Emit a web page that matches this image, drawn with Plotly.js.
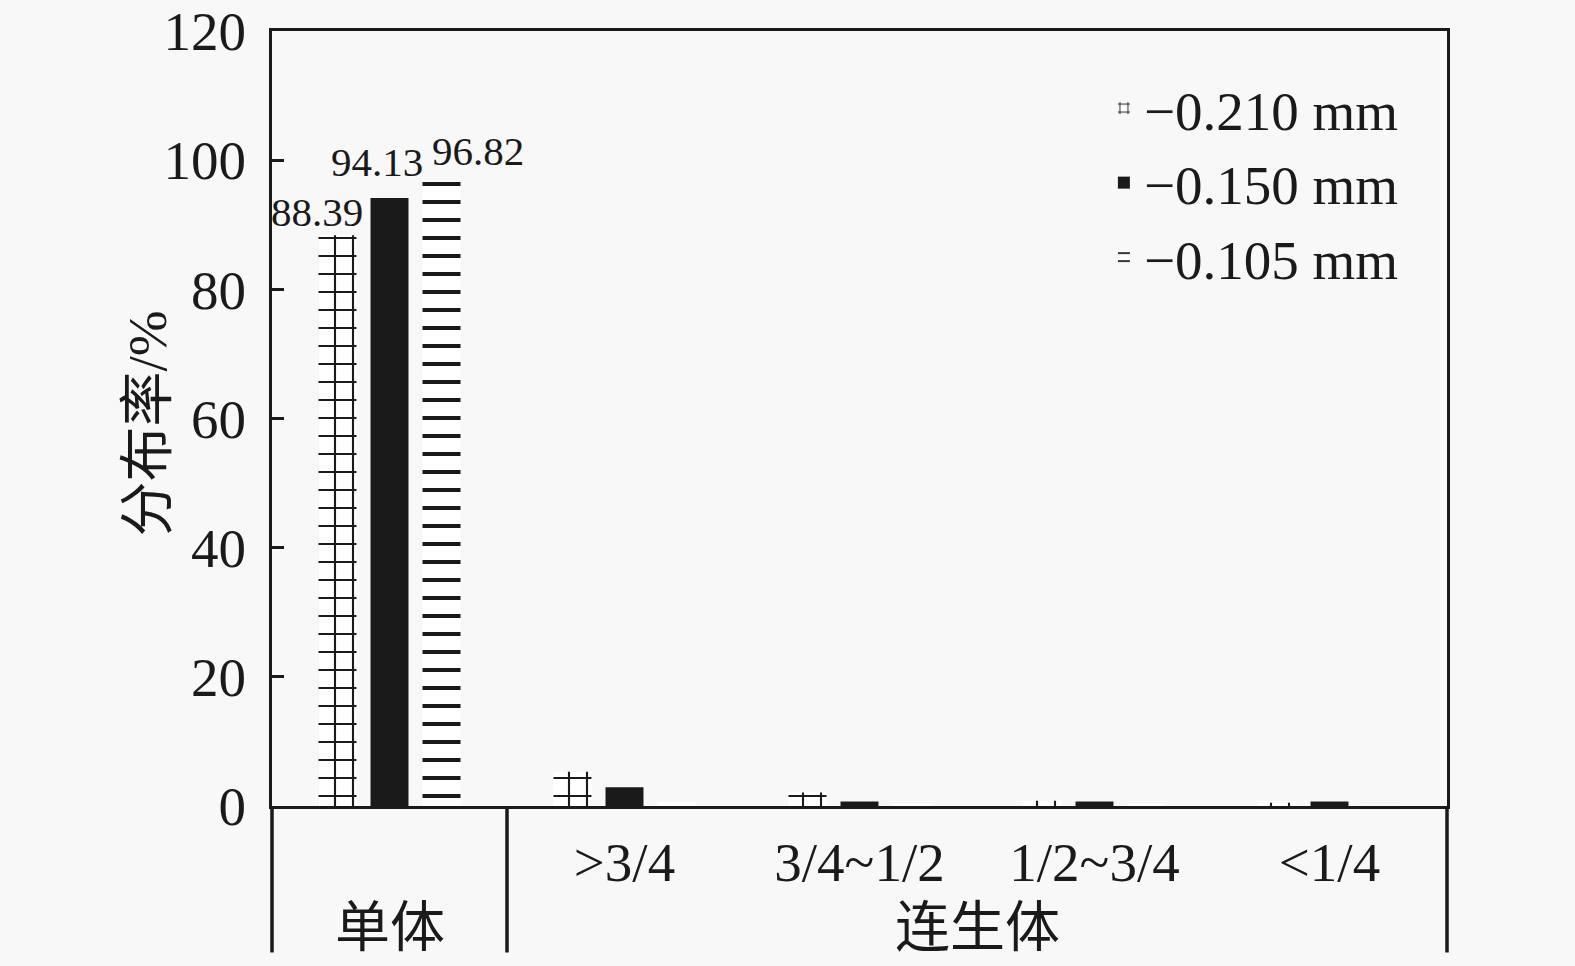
<!DOCTYPE html>
<html>
<head>
<meta charset="utf-8">
<script src="https://cdn.plot.ly/plotly-3.0.1.min.js"></script>
<style>html,body{margin:0;padding:0;background:#f8f8f8;}</style>
</head>
<body>
<div id="chart" style="width:1575px;height:966px;"></div>
<script>
// ---- data ----
var categories = ['单体', '>3/4', '3/4~1/2', '1/2~3/4', '<1/4'];
var tickLabels = ['', '>3/4', '3/4~1/2', '1/2~3/4', '<1/4'];
var groupLabels = ['单体', '连生体'];
var seriesNames = ['\u22120.210 mm', '\u22120.150 mm', '\u22120.105 mm'];
var s210 = [88.39, 5.3, 2.1, 0.8, 0.5];
var s150 = [94.13, 2.9, 0.7, 0.7, 0.7];
var s105 = [96.82, 0.6, 0.3, 0.3, 0.1];
var yTicks = [0, 20, 40, 60, 80, 100, 120];

var FONT = '"Liberation Serif", "Times New Roman", "Noto Sans CJK SC", serif';
var INK = '#1a1a1a';
var BG = '#f8f8f8';
var FS = 55;
var bargap = 0.336, bargroupgap = 0.27;

var traces = [
  {type: 'bar', name: seriesNames[0], x: categories, y: s210,
   marker: {color: '#ffffff', line: {width: 0},
            pattern: {shape: '+', fgcolor: INK, bgcolor: '#ffffff', size: 18, solidity: 0.22}}},
  {type: 'bar', name: seriesNames[1], x: categories, y: s150,
   marker: {color: INK, line: {width: 0}}},
  {type: 'bar', name: seriesNames[2], x: categories, y: s105,
   marker: {color: '#ffffff', line: {width: 0},
            pattern: {shape: '-', fgcolor: INK, bgcolor: '#ffffff', size: 18, solidity: 0.22}}}
];

// bar value labels for the first category
var slot = (1 - bargap) / 3;
var vals = [s210[0], s150[0], s105[0]];
var lblShift = [[-20, 23], [-13, 36], [36, 30]];
var annotations = vals.map(function (v, i) {
  return {x: (i - 1) * slot, y: v, xref: 'x', yref: 'y', text: v.toFixed(2),
          showarrow: false, xshift: lblShift[i][0], yshift: lblShift[i][1],
          font: {family: FONT, size: 41, color: INK}};
});
annotations.push({x: 0, y: -0.157, xref: 'x', yref: 'paper', yanchor: 'middle', text: groupLabels[0],
                  showarrow: false, font: {family: FONT, size: FS, color: INK}});
annotations.push({x: 2.5, y: -0.157, xref: 'x', yref: 'paper', yanchor: 'middle', text: groupLabels[1],
                  showarrow: false, font: {family: FONT, size: FS, color: INK}});
annotations.push({x: -0.106, y: 0.494, xref: 'paper', yref: 'paper', xanchor: 'center', yanchor: 'middle',
                  text: '分布率/%', textangle: -90,
                  showarrow: false, font: {family: FONT, size: FS, color: INK}});

// group dividers below the axis: at the outer edges and between 单体 and 连生体
var nCat = categories.length;
var shapes = [-0.5, 0.5, nCat - 0.5].map(function (xv) {
  var xp = (xv + 0.5) / nCat;
  return {type: 'line', xref: 'paper', yref: 'paper', x0: xp, x1: xp, y0: 0, y1: -0.189,
          line: {color: INK, width: 3.5}};
});

var layout = {
  width: 1575, height: 966,
  paper_bgcolor: BG, plot_bgcolor: BG,
  margin: {l: 272, r: 128, t: 31, b: 160},
  barmode: 'group', bargap: bargap, bargroupgap: bargroupgap,
  font: {family: FONT, color: INK, size: FS},
  showlegend: true,
  legend: {x: 0.708, y: 0.955, xanchor: 'left', yanchor: 'top', bgcolor: 'rgba(0,0,0,0)',
           font: {family: FONT, size: FS, color: INK}, tracegroupgap: 0, itemwidth: 30},
  xaxis: {type: 'category', categoryorder: 'array', categoryarray: categories,
          tickvals: categories, ticktext: tickLabels, ticks: '', ticklabelstandoff: 6,
          showline: true, mirror: true, linecolor: INK, linewidth: 3,
          tickfont: {family: FONT, size: FS, color: INK}, showgrid: false, zeroline: false,
          range: [-0.5, 4.5], fixedrange: true},
  yaxis: {range: [0, 120], tickvals: yTicks, ticks: 'inside', ticklen: 12, tickwidth: 3, tickcolor: INK,
          showline: true, mirror: true, linecolor: INK, linewidth: 3, showgrid: false, zeroline: false,
          tickfont: {family: FONT, size: FS, color: INK}, ticklabelstandoff: 12},
  annotations: annotations,
  shapes: shapes
};

Plotly.newPlot('chart', traces, layout, {displayModeBar: false, staticPlot: true});
</script>
</body>
</html>
